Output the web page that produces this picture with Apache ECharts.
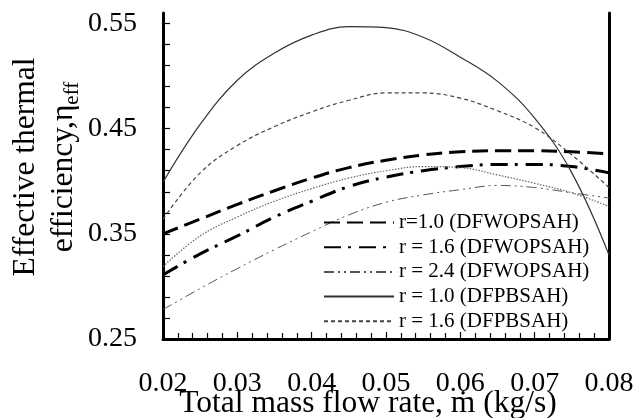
<!DOCTYPE html>
<html>
<head>
<meta charset="utf-8">
<script src="https://cdn.jsdelivr.net/npm/echarts@6/dist/echarts.min.js"></script>
<style>
  html, body { margin: 0; padding: 0; background: #fff; }
  #chart { width: 640px; height: 418px; }
</style>
</head>
<body>
<div id="chart"></div>
<script>
// Total mass flow rate (kg/s)
const massFlow = [0.020, 0.025, 0.030, 0.035, 0.040, 0.045, 0.050, 0.055, 0.060, 0.065, 0.070, 0.075, 0.080];

// Effective thermal efficiency for each configuration
const dfwopsahR10 = [0.350, 0.364, 0.378, 0.391, 0.403, 0.413, 0.420, 0.425, 0.428, 0.429, 0.429, 0.428, 0.426];
const dfwopsahR16 = [0.311, 0.331, 0.348, 0.366, 0.381, 0.395, 0.404, 0.410, 0.414, 0.416, 0.416, 0.414, 0.408];
const dfwopsahR24 = [0.278, 0.298, 0.317, 0.335, 0.352, 0.368, 0.380, 0.387, 0.392, 0.396, 0.394, 0.389, 0.384];
const dfpbsahR10  = [0.399, 0.454, 0.496, 0.522, 0.539, 0.547, 0.546, 0.537, 0.518, 0.495, 0.460, 0.408, 0.330];
const dfpbsahR16  = [0.364, 0.408, 0.434, 0.452, 0.466, 0.477, 0.484, 0.484, 0.479, 0.467, 0.451, 0.425, 0.394];
const dfpbsahR24  = [0.319, 0.348, 0.366, 0.381, 0.393, 0.403, 0.410, 0.414, 0.413, 0.406, 0.398, 0.389, 0.376];

// Axis ticks and labels
const xTickLabels = [0.02, 0.03, 0.04, 0.05, 0.06, 0.07, 0.08];
const yTickLabels = [0.25, 0.35, 0.45, 0.55];
const yTicks = [0.25, 0.27, 0.29, 0.31, 0.33, 0.35, 0.37, 0.39, 0.41, 0.43, 0.45, 0.47, 0.49, 0.51, 0.53, 0.55];

const legendNames = [
  'r=1.0 (DFWOPSAH)',
  'r = 1.6 (DFWOPSAH)',
  'r = 2.4 (DFWOPSAH)',
  'r = 1.0 (DFPBSAH)',
  'r = 1.6 (DFPBSAH)'
];

const FONT = '"Liberation Serif", "Times New Roman", serif';

function pairs(ys) {
  return massFlow.map((x, i) => [x, ys[i]]);
}

function curve(name, ys, color, width, type) {
  return {
    name: name,
    type: 'line',
    data: pairs(ys),
    smooth: 0.4,
    symbol: 'none',
    lineStyle: { color: color, width: width, type: type },
    itemStyle: { color: color },
    z: 2
  };
}

const chart = echarts.init(document.getElementById('chart'), null, { renderer: 'canvas' });

chart.setOption({
  animation: false,
  backgroundColor: '#fff',
  grid: { left: 163, right: 31, top: 13, bottom: 79, containLabel: false, outerBoundsMode: 'none' },
  legend: {
    data: legendNames,
    orient: 'vertical',
    left: 323,
    top: 212,
    padding: 0,
    itemWidth: 70,
    itemHeight: 14,
    itemGap: 3.7,
    itemStyle: { opacity: 0 },
    textStyle: { fontFamily: FONT, fontSize: 21, color: '#000', lineHeight: 20 }
  },
  xAxis: {
    type: 'value',
    min: 0.02,
    max: 0.08,
    interval: 0.01,
    name: 'Total mass flow rate, ṁ (kg/s)',
    nameLocation: 'middle',
    nameGap: 49,
    nameMoveOverlap: false,
    nameTextStyle: { fontFamily: FONT, fontSize: 31.5, color: '#000', padding: [0, 36, 0, 0] },
    axisLine: { lineStyle: { color: '#000', width: 3 } },
    axisTick: { inside: true, length: 7, lineStyle: { color: '#000', width: 1.2 } },
    minorTick: { show: true, splitNumber: 5, length: 6, lineStyle: { color: '#000', width: 1.2 } },
    splitLine: { show: false },
    axisLabel: {
      fontFamily: FONT, fontSize: 28, color: '#000', margin: 31,
      customValues: xTickLabels,
      formatter: v => v.toFixed(2)
    }
  },
  yAxis: [{
    type: 'value',
    min: 0.25,
    max: 0.56,
    name: 'Effective thermal\nefficiency,η{s|eff}',
    nameLocation: 'middle',
    nameRotate: 90,
    nameGap: 80,
    nameMoveOverlap: false,
    nameTextStyle: {
      fontFamily: FONT, fontSize: 31.5, color: '#000', lineHeight: 38,
      padding: [0, 0, 0, 18],
      rich: { s: { fontFamily: FONT, fontSize: 21, color: '#000', verticalAlign: 'bottom', lineHeight: 30 } }
    },
    axisLine: { show: true, lineStyle: { color: '#000', width: 3 } },
    axisTick: { show: true, inside: true, length: 7, customValues: yTicks, lineStyle: { color: '#000', width: 1.2 } },
    splitLine: { show: false },
    axisLabel: {
      fontFamily: FONT, fontSize: 28, color: '#000', margin: 26,
      customValues: yTickLabels,
      formatter: v => v.toFixed(2)
    }
  }, {
    type: 'value',
    position: 'right',
    min: 0.25,
    max: 0.56,
    axisLine: { show: true, lineStyle: { color: '#000', width: 3 } },
    axisTick: { show: false },
    axisLabel: { show: false },
    splitLine: { show: false }
  }],
  series: [
    curve(legendNames[0], dfwopsahR10, '#000', 3, [16, 7]),
    curve(legendNames[1], dfwopsahR16, '#000', 3, [17, 7, 3, 8]),
    curve(legendNames[2], dfwopsahR24, '#555', 1, [10, 4, 2, 4, 2, 4]),
    curve(legendNames[3], dfpbsahR10, '#333', 1.2, 'solid'),
    curve(legendNames[4], dfpbsahR16, '#444', 1.2, [4, 3]),
    curve('r = 2.4 (DFPBSAH)', dfpbsahR24, '#666', 1.2, [1.5, 1.5])
  ]
});
</script>
</body>
</html>
